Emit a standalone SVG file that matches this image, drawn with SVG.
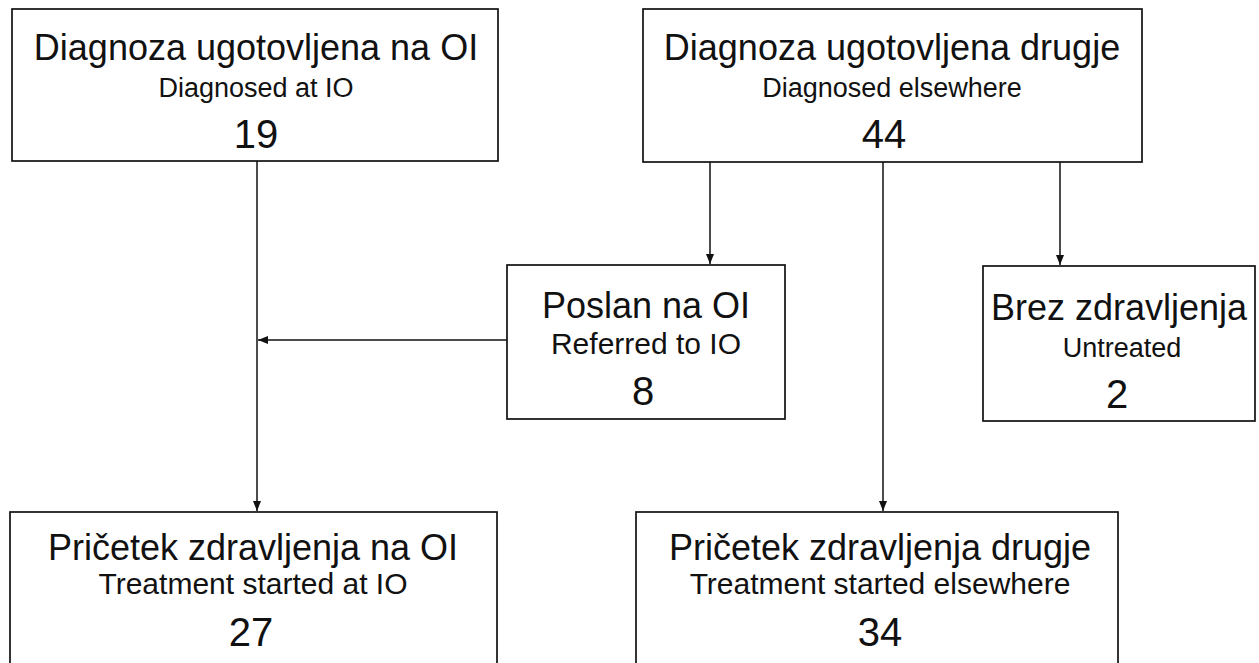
<svg xmlns="http://www.w3.org/2000/svg" width="1259" height="663" viewBox="0 0 1259 663">
<defs>
<style>
.box{fill:#fff;stroke:#111;stroke-width:1.7}
.t{font-family:"Liberation Sans",Arial,sans-serif;fill:#111;text-anchor:middle}
.h{font-size:36px}
.s{font-size:27px}
.s2{font-size:30px}
.n{font-size:40px}
.c{fill:none;stroke:#111;stroke-width:1.5}
</style>
<marker id="ah" viewBox="0 0 10 10" refX="10" refY="5" markerWidth="10" markerHeight="10" markerUnits="userSpaceOnUse" orient="auto">
<path d="M0,1 L10,5 L0,9 Z" fill="#111"/>
</marker>
</defs>
<rect width="1259" height="663" fill="#fff"/>
<g id="connectors">
<line class="c" x1="257" y1="161" x2="257" y2="511" marker-end="url(#ah)"/>
<line class="c" x1="507" y1="340" x2="258" y2="340" marker-end="url(#ah)"/>
<line class="c" x1="710" y1="162" x2="710" y2="264" marker-end="url(#ah)"/>
<line class="c" x1="883" y1="162" x2="883" y2="511" marker-end="url(#ah)"/>
<line class="c" x1="1060" y1="162" x2="1060" y2="265" marker-end="url(#ah)"/>
</g>
<g id="n1">
<rect class="box" x="12" y="9" width="486" height="152"/>
<text class="t h" x="256" y="60">Diagnoza ugotovljena na OI</text>
<text class="t s" x="256" y="97">Diagnosed at IO</text>
<text class="t n" x="256" y="148">19</text>
</g>
<g id="n2">
<rect class="box" x="643" y="9" width="499" height="153"/>
<text class="t h" x="892" y="60">Diagnoza ugotovljena drugje</text>
<text class="t s" x="892" y="97">Diagnosed elsewhere</text>
<text class="t n" x="884" y="148">44</text>
</g>
<g id="n3">
<rect class="box" x="507" y="265" width="278" height="154"/>
<text class="t h" x="646" y="318">Poslan na OI</text>
<text class="t s2" x="646" y="354">Referred to IO</text>
<text class="t n" x="643" y="405">8</text>
</g>
<g id="n4">
<rect class="box" x="983" y="266" width="272" height="155"/>
<text class="t h" x="1119" y="320">Brez zdravljenja</text>
<text class="t s" x="1122" y="357">Untreated</text>
<text class="t n" x="1117" y="408">2</text>
</g>
<g id="n5">
<rect class="box" x="10" y="512" width="487" height="160"/>
<text class="t h" x="253" y="560">Pričetek zdravljenja na OI</text>
<text class="t s2" x="253" y="594">Treatment started at IO</text>
<text class="t n" x="251" y="646">27</text>
</g>
<g id="n6">
<rect class="box" x="636" y="512" width="482" height="160"/>
<text class="t h" x="880" y="560">Pričetek zdravljenja drugje</text>
<text class="t s2" x="880" y="594">Treatment started elsewhere</text>
<text class="t n" x="880" y="646">34</text>
</g>
</svg>
